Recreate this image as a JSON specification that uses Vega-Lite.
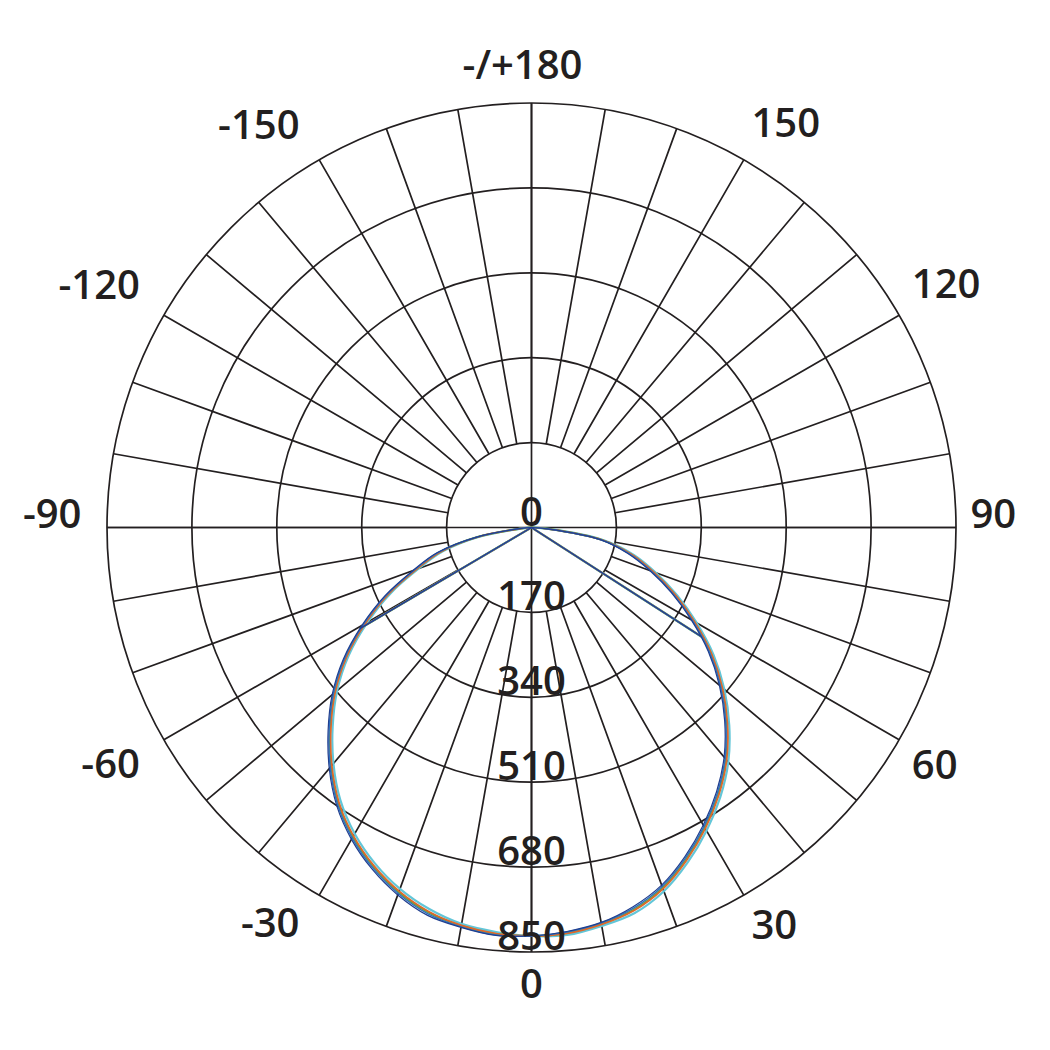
{
  "$schema": "https://vega.github.io/schema/vega-lite/v6.json",
  "width": 849,
  "height": 849,
  "autosize": {"type": "none"},
  "padding": {"left": 107, "top": 103, "right": 94, "bottom": 98},
  "background": "#ffffff",
  "config": {"view": {"stroke": null}},
  "datasets": {
    "rings": [
      {"r": 0, "t": "0"},
      {"r": 170, "t": "170"},
      {"r": 340, "t": "340"},
      {"r": 510, "t": "510"},
      {"r": 680, "t": "680"},
      {"r": 850, "t": "850"}
    ],
    "spokes": [
      {"g": -170}, {"g": -160}, {"g": -150}, {"g": -140}, {"g": -130}, {"g": -120},
      {"g": -110}, {"g": -100}, {"g": -90}, {"g": -80}, {"g": -70}, {"g": -60},
      {"g": -50}, {"g": -40}, {"g": -30}, {"g": -20}, {"g": -10}, {"g": 0},
      {"g": 10}, {"g": 20}, {"g": 30}, {"g": 40}, {"g": 50}, {"g": 60},
      {"g": 70}, {"g": 80}, {"g": 90}, {"g": 100}, {"g": 110}, {"g": 120},
      {"g": 130}, {"g": 140}, {"g": 150}, {"g": 160}, {"g": 170}, {"g": 180}
    ],
    "angles": [
      {"g": 0, "t": "0"}, {"g": 30, "t": "30"}, {"g": 60, "t": "60"},
      {"g": 90, "t": "90"}, {"g": 120, "t": "120"}, {"g": 150, "t": "150"},
      {"g": -30, "t": "-30"}, {"g": -60, "t": "-60"}, {"g": -90, "t": "-90"},
      {"g": -120, "t": "-120"}, {"g": -150, "t": "-150"},
      {"g": 180, "t": "-/+180"}
    ],
    "curves": [
      {"c":"e","p":"m","g":-90,"i":0},{"c":"e","p":"m","g":-85,"i":13},{"c":"e","p":"m","g":-80,"i":106},{"c":"e","p":"m","g":-75,"i":183},{"c":"e","p":"m","g":-70,"i":240},{"c":"e","p":"m","g":-65,"i":311},{"c":"e","p":"m","g":-60,"i":379},{"c":"e","p":"m","g":-55,"i":447},{"c":"e","p":"m","g":-50,"i":508},{"c":"e","p":"m","g":-45,"i":563},{"c":"e","p":"m","g":-40,"i":617},{"c":"e","p":"m","g":-35,"i":667},{"c":"e","p":"m","g":-30,"i":708},{"c":"e","p":"m","g":-25,"i":742},{"c":"e","p":"m","g":-20,"i":770},{"c":"e","p":"m","g":-15,"i":791},{"c":"e","p":"m","g":-10,"i":806},{"c":"e","p":"m","g":-5,"i":813},{"c":"e","p":"m","g":0,"i":818},{"c":"e","p":"m","g":5,"i":819},{"c":"e","p":"m","g":10,"i":810},{"c":"e","p":"m","g":15,"i":799},{"c":"e","p":"m","g":20,"i":775},{"c":"e","p":"m","g":25,"i":740},{"c":"e","p":"m","g":30,"i":701},{"c":"e","p":"m","g":35,"i":659},{"c":"e","p":"m","g":40,"i":613},{"c":"e","p":"m","g":45,"i":560},{"c":"e","p":"m","g":50,"i":504},{"c":"e","p":"m","g":55,"i":445},{"c":"e","p":"m","g":60,"i":382},{"c":"e","p":"m","g":65,"i":322},{"c":"e","p":"m","g":70,"i":265},{"c":"e","p":"m","g":75,"i":212},{"c":"e","p":"m","g":80,"i":147},{"c":"e","p":"m","g":85,"i":39},{"c":"e","p":"m","g":90,"i":0},
      {"c":"e","p":"l","g":-59.5,"i":0},{"c":"e","p":"l","g":-59.5,"i":386},{"c":"e","p":"r","g":57.3,"i":0},{"c":"e","p":"r","g":57.3,"i":415},
      {"c":"c","p":"m","g":-90,"i":0},{"c":"c","p":"m","g":-85,"i":17},{"c":"c","p":"m","g":-80,"i":110},{"c":"c","p":"m","g":-75,"i":190},{"c":"c","p":"m","g":-70,"i":247},{"c":"c","p":"m","g":-65,"i":318},{"c":"c","p":"m","g":-60,"i":386},{"c":"c","p":"m","g":-55,"i":454},{"c":"c","p":"m","g":-50,"i":515},{"c":"c","p":"m","g":-45,"i":570},{"c":"c","p":"m","g":-40,"i":624},{"c":"c","p":"m","g":-35,"i":674},{"c":"c","p":"m","g":-30,"i":715},{"c":"c","p":"m","g":-25,"i":749},{"c":"c","p":"m","g":-20,"i":777},{"c":"c","p":"m","g":-15,"i":798},{"c":"c","p":"m","g":-10,"i":810},{"c":"c","p":"m","g":-5,"i":817},{"c":"c","p":"m","g":0,"i":818},{"c":"c","p":"m","g":5,"i":815},{"c":"c","p":"m","g":10,"i":806},{"c":"c","p":"m","g":15,"i":792},{"c":"c","p":"m","g":20,"i":768},{"c":"c","p":"m","g":25,"i":733},{"c":"c","p":"m","g":30,"i":694},{"c":"c","p":"m","g":35,"i":652},{"c":"c","p":"m","g":40,"i":606},{"c":"c","p":"m","g":45,"i":553},{"c":"c","p":"m","g":50,"i":497},{"c":"c","p":"m","g":55,"i":438},{"c":"c","p":"m","g":60,"i":375},{"c":"c","p":"m","g":65,"i":315},{"c":"c","p":"m","g":70,"i":258},{"c":"c","p":"m","g":75,"i":205},{"c":"c","p":"m","g":80,"i":143},{"c":"c","p":"m","g":85,"i":35},{"c":"c","p":"m","g":90,"i":0},
      {"c":"c","p":"l","g":-59.5,"i":0},{"c":"c","p":"l","g":-59.5,"i":393},{"c":"c","p":"r","g":57.3,"i":0},{"c":"c","p":"r","g":57.3,"i":408},
      {"c":"d","p":"m","g":-90,"i":0},{"c":"d","p":"m","g":-85,"i":16},{"c":"d","p":"m","g":-80,"i":109},{"c":"d","p":"m","g":-75,"i":188},{"c":"d","p":"m","g":-70,"i":245},{"c":"d","p":"m","g":-65,"i":316},{"c":"d","p":"m","g":-60,"i":384},{"c":"d","p":"m","g":-55,"i":452},{"c":"d","p":"m","g":-50,"i":513},{"c":"d","p":"m","g":-45,"i":568},{"c":"d","p":"m","g":-40,"i":622},{"c":"d","p":"m","g":-35,"i":672},{"c":"d","p":"m","g":-30,"i":713},{"c":"d","p":"m","g":-25,"i":747},{"c":"d","p":"m","g":-20,"i":775},{"c":"d","p":"m","g":-15,"i":796},{"c":"d","p":"m","g":-10,"i":809},{"c":"d","p":"m","g":-5,"i":816},{"c":"d","p":"m","g":0,"i":818},{"c":"d","p":"m","g":5,"i":816},{"c":"d","p":"m","g":10,"i":807},{"c":"d","p":"m","g":15,"i":794},{"c":"d","p":"m","g":20,"i":770},{"c":"d","p":"m","g":25,"i":735},{"c":"d","p":"m","g":30,"i":696},{"c":"d","p":"m","g":35,"i":654},{"c":"d","p":"m","g":40,"i":608},{"c":"d","p":"m","g":45,"i":555},{"c":"d","p":"m","g":50,"i":499},{"c":"d","p":"m","g":55,"i":440},{"c":"d","p":"m","g":60,"i":377},{"c":"d","p":"m","g":65,"i":317},{"c":"d","p":"m","g":70,"i":260},{"c":"d","p":"m","g":75,"i":207},{"c":"d","p":"m","g":80,"i":144},{"c":"d","p":"m","g":85,"i":36},{"c":"d","p":"m","g":90,"i":0},
      {"c":"d","p":"l","g":-59.5,"i":0},{"c":"d","p":"l","g":-59.5,"i":391},{"c":"d","p":"r","g":57.3,"i":0},{"c":"d","p":"r","g":57.3,"i":410},
      {"c":"b","p":"m","g":-90,"i":0},{"c":"b","p":"m","g":-85,"i":19},{"c":"b","p":"m","g":-80,"i":112},{"c":"b","p":"m","g":-75,"i":193},{"c":"b","p":"m","g":-70,"i":250},{"c":"b","p":"m","g":-65,"i":321},{"c":"b","p":"m","g":-60,"i":389},{"c":"b","p":"m","g":-55,"i":457},{"c":"b","p":"m","g":-50,"i":518},{"c":"b","p":"m","g":-45,"i":573},{"c":"b","p":"m","g":-40,"i":627},{"c":"b","p":"m","g":-35,"i":677},{"c":"b","p":"m","g":-30,"i":718},{"c":"b","p":"m","g":-25,"i":752},{"c":"b","p":"m","g":-20,"i":780},{"c":"b","p":"m","g":-15,"i":801},{"c":"b","p":"m","g":-10,"i":812},{"c":"b","p":"m","g":-5,"i":819},{"c":"b","p":"m","g":0,"i":818},{"c":"b","p":"m","g":5,"i":813},{"c":"b","p":"m","g":10,"i":804},{"c":"b","p":"m","g":15,"i":789},{"c":"b","p":"m","g":20,"i":765},{"c":"b","p":"m","g":25,"i":730},{"c":"b","p":"m","g":30,"i":691},{"c":"b","p":"m","g":35,"i":649},{"c":"b","p":"m","g":40,"i":603},{"c":"b","p":"m","g":45,"i":550},{"c":"b","p":"m","g":50,"i":494},{"c":"b","p":"m","g":55,"i":435},{"c":"b","p":"m","g":60,"i":372},{"c":"b","p":"m","g":65,"i":312},{"c":"b","p":"m","g":70,"i":255},{"c":"b","p":"m","g":75,"i":202},{"c":"b","p":"m","g":80,"i":141},{"c":"b","p":"m","g":85,"i":33},{"c":"b","p":"m","g":90,"i":0},
      {"c":"b","p":"l","g":-59.5,"i":0},{"c":"b","p":"l","g":-59.5,"i":396},{"c":"b","p":"r","g":57.3,"i":0},{"c":"b","p":"r","g":57.3,"i":405},
      {"c":"a","p":"m","g":-90,"i":0},{"c":"a","p":"m","g":-85,"i":20},{"c":"a","p":"m","g":-80,"i":113},{"c":"a","p":"m","g":-75,"i":196},{"c":"a","p":"m","g":-70,"i":253},{"c":"a","p":"m","g":-65,"i":324},{"c":"a","p":"m","g":-60,"i":392},{"c":"a","p":"m","g":-55,"i":460},{"c":"a","p":"m","g":-50,"i":521},{"c":"a","p":"m","g":-45,"i":576},{"c":"a","p":"m","g":-40,"i":630},{"c":"a","p":"m","g":-35,"i":680},{"c":"a","p":"m","g":-30,"i":721},{"c":"a","p":"m","g":-25,"i":755},{"c":"a","p":"m","g":-20,"i":783},{"c":"a","p":"m","g":-15,"i":804},{"c":"a","p":"m","g":-10,"i":813},{"c":"a","p":"m","g":-5,"i":820},{"c":"a","p":"m","g":0,"i":818},{"c":"a","p":"m","g":5,"i":812},{"c":"a","p":"m","g":10,"i":803},{"c":"a","p":"m","g":15,"i":786},{"c":"a","p":"m","g":20,"i":762},{"c":"a","p":"m","g":25,"i":727},{"c":"a","p":"m","g":30,"i":688},{"c":"a","p":"m","g":35,"i":646},{"c":"a","p":"m","g":40,"i":600},{"c":"a","p":"m","g":45,"i":547},{"c":"a","p":"m","g":50,"i":491},{"c":"a","p":"m","g":55,"i":432},{"c":"a","p":"m","g":60,"i":369},{"c":"a","p":"m","g":65,"i":309},{"c":"a","p":"m","g":70,"i":252},{"c":"a","p":"m","g":75,"i":199},{"c":"a","p":"m","g":80,"i":140},{"c":"a","p":"m","g":85,"i":32},{"c":"a","p":"m","g":90,"i":0},
      {"c":"a","p":"l","g":-59.5,"i":0},{"c":"a","p":"l","g":-59.5,"i":399},{"c":"a","p":"r","g":57.3,"i":0},{"c":"a","p":"r","g":57.3,"i":402}
    ]
  },
  "layer": [
    {
      "data": {"name": "rings"},
      "transform": [{"filter": "datum.r > 0"}],
      "mark": {"type": "arc", "filled": false, "stroke": "#231f20", "strokeWidth": 1.7, "theta": 0, "theta2": 6.2832},
      "encoding": {
        "radius": {"field": "r", "type": "quantitative", "stack": null, "scale": {"type": "linear", "domain": [0, 850], "range": [0, 424.5]}}
      }
    },
    {
      "data": {"name": "spokes"},
      "mark": {"type": "arc", "filled": false, "stroke": "#231f20", "strokeWidth": 1.7, "radius": 424.5, "radius2": 84.9},
      "encoding": {
        "theta": {"field": "g", "type": "quantitative", "stack": null, "scale": {"domain": [-180, 180], "range": [6.283185307, 0]}},
        "theta2": {"field": "g"}
      }
    },
    {
      "data": {"name": "spokes"},
      "transform": [{"filter": "datum.g % 90 == 0"}],
      "mark": {"type": "arc", "filled": false, "stroke": "#231f20", "strokeWidth": 1.7, "radius": 424.5, "radius2": 0},
      "encoding": {
        "theta": {"field": "g", "type": "quantitative", "stack": null, "scale": {"domain": [-180, 180], "range": [6.283185307, 0]}},
        "theta2": {"field": "g"}
      }
    },
    {
      "data": {"name": "curves"},
      "transform": [
        {"calculate": "datum.i * sin(datum.g * PI / 180)", "as": "px"},
        {"calculate": "-datum.i * cos(datum.g * PI / 180)", "as": "py"}
      ],
      "mark": {"type": "line", "interpolate": "catmull-rom", "strokeJoin": "round"},
      "encoding": {
        "x": {"field": "px", "type": "quantitative", "scale": {"domain": [-850, 850], "nice": false, "zero": false}, "axis": null},
        "y": {"field": "py", "type": "quantitative", "scale": {"domain": [-850, 850], "nice": false, "zero": false}, "axis": null},
        "color": {"field": "c", "type": "nominal", "legend": null, "scale": {"domain": ["e", "c", "d", "b", "a"], "range": ["#62c6d8", "#6aa83a", "#e0662a", "#2e6fc0", "#213f8f"]}},
        "strokeWidth": {"field": "c", "type": "nominal", "legend": null, "scale": {"domain": ["e", "c", "d", "b", "a"], "range": [2.2, 1.2, 1, 1.2, 1.3]}},
        "detail": {"field": "p"},
        "order": {"value": null}
      }
    },
    {
      "data": {"name": "rings"},
      "mark": {"type": "text", "font": "Open Sans", "fontSize": 40, "fontWeight": 600, "fill": "#231f20", "align": "center", "baseline": "alphabetic", "dy": -2, "theta": 3.14159265},
      "encoding": {
        "radius": {"field": "r", "type": "quantitative", "stack": null, "scale": {"type": "linear", "domain": [0, 850], "range": [0, 424.5]}},
        "text": {"field": "t"}
      }
    },
    {
      "data": {"name": "angles"},
      "transform": [{"filter": "datum.g == 30 || datum.g == 60"}],
      "mark": {"type": "text", "font": "Open Sans", "fontSize": 40, "fontWeight": 600, "fill": "#231f20", "align": "left", "baseline": "top", "radius": 438, "dx": 1},
      "encoding": {
        "theta": {"field": "g", "type": "quantitative", "stack": null, "scale": {"domain": [-180, 180], "range": [6.283185307, 0]}},
        "text": {"field": "t"}
      }
    },
    {
      "data": {"name": "angles"},
      "transform": [{"filter": "datum.g == 90"}],
      "mark": {"type": "text", "font": "Open Sans", "fontSize": 40, "fontWeight": 600, "fill": "#231f20", "align": "left", "baseline": "alphabetic", "radius": 438, "dx": 1},
      "encoding": {
        "theta": {"field": "g", "type": "quantitative", "stack": null, "scale": {"domain": [-180, 180], "range": [6.283185307, 0]}},
        "text": {"field": "t"}
      }
    },
    {
      "data": {"name": "angles"},
      "transform": [{"filter": "datum.g == 120 || datum.g == 150"}],
      "mark": {"type": "text", "font": "Open Sans", "fontSize": 40, "fontWeight": 600, "fill": "#231f20", "align": "left", "baseline": "alphabetic", "radius": 438, "dx": 1, "dy": -11},
      "encoding": {
        "theta": {"field": "g", "type": "quantitative", "stack": null, "scale": {"domain": [-180, 180], "range": [6.283185307, 0]}},
        "text": {"field": "t"}
      }
    },
    {
      "data": {"name": "angles"},
      "transform": [{"filter": "datum.g == -30 || datum.g == -60"}],
      "mark": {"type": "text", "font": "Open Sans", "fontSize": 40, "fontWeight": 600, "fill": "#231f20", "align": "right", "baseline": "top", "radius": 436, "dx": -14},
      "encoding": {
        "theta": {"field": "g", "type": "quantitative", "stack": null, "scale": {"domain": [-180, 180], "range": [6.283185307, 0]}},
        "text": {"field": "t"}
      }
    },
    {
      "data": {"name": "angles"},
      "transform": [{"filter": "datum.g == -90"}],
      "mark": {"type": "text", "font": "Open Sans", "fontSize": 40, "fontWeight": 600, "fill": "#231f20", "align": "right", "baseline": "alphabetic", "radius": 436, "dx": -14},
      "encoding": {
        "theta": {"field": "g", "type": "quantitative", "stack": null, "scale": {"domain": [-180, 180], "range": [6.283185307, 0]}},
        "text": {"field": "t"}
      }
    },
    {
      "data": {"name": "angles"},
      "transform": [{"filter": "datum.g == -120 || datum.g == -150"}],
      "mark": {"type": "text", "font": "Open Sans", "fontSize": 40, "fontWeight": 600, "fill": "#231f20", "align": "right", "baseline": "alphabetic", "radius": 436, "dx": -14, "dy": -11},
      "encoding": {
        "theta": {"field": "g", "type": "quantitative", "stack": null, "scale": {"domain": [-180, 180], "range": [6.283185307, 0]}},
        "text": {"field": "t"}
      }
    },
    {
      "data": {"name": "angles"},
      "transform": [{"filter": "datum.g == 0"}],
      "mark": {"type": "text", "font": "Open Sans", "fontSize": 40, "fontWeight": 600, "fill": "#231f20", "align": "center", "baseline": "top", "radius": 438},
      "encoding": {
        "theta": {"field": "g", "type": "quantitative", "stack": null, "scale": {"domain": [-180, 180], "range": [6.283185307, 0]}},
        "text": {"field": "t"}
      }
    },
    {
      "data": {"name": "angles"},
      "transform": [{"filter": "datum.g == 180"}],
      "mark": {"type": "text", "font": "Open Sans", "fontSize": 40, "fontWeight": 600, "fill": "#231f20", "align": "center", "baseline": "alphabetic", "radius": 438, "dx": -9, "dy": -11},
      "encoding": {
        "theta": {"field": "g", "type": "quantitative", "stack": null, "scale": {"domain": [-180, 180], "range": [6.283185307, 0]}},
        "text": {"field": "t"}
      }
    }
  ]
}
